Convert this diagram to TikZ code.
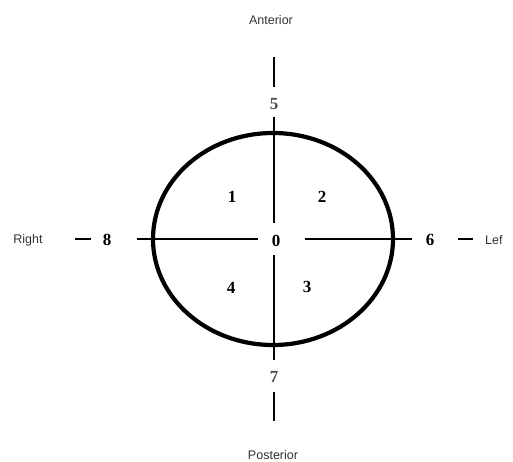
\documentclass[tikz,border=0pt]{standalone}
\usepackage{fontspec}
\setmainfont{Liberation Serif}
\setsansfont{Liberation Sans}
\begin{document}
\begin{tikzpicture}[x=1pt,y=-1pt,
  num/.style={font=\fontsize{17}{17}\selectfont\bfseries, text=black, inner sep=0pt},
  numlight/.style={font=\fontsize{17}{17}\selectfont\bfseries, text=black!70, inner sep=0pt},
  dirlabel/.style={font=\sffamily\fontsize{12.5}{12.5}\selectfont, text=black!80, inner sep=0pt},
  axis/.style={line width=2.4pt, black},
  rim/.style={line width=4.2pt, black}]
\useasboundingbox (0,0) rectangle (513,462);
% outline
\draw[rim] (273,239) ellipse [x radius=120, y radius=106];
% labels
\node[dirlabel] (ant) at (271,20) {Anterior};
\node[dirlabel] (post) at (273,455) {Posterior};
\node[dirlabel] (right) at (28,240) {Right};
\node[dirlabel, anchor=west] (left) at (485,240) {Lef};
\node[numlight] (n5) at (274,104) {5};
\node[numlight] (n7) at (274,377) {7};
\node[num] (n8) at (107,240) {8};
\node[num] (n6) at (430,240) {6};
\node[num] (n0) at (276,241) {0};
\node[num] (n1) at (232,197) {1};
\node[num] (n2) at (322,197) {2};
\node[num] (n4) at (231,288) {4};
\node[num] (n3) at (307,287) {3};
% axis end points
\coordinate (t1) at (274,57);  \coordinate (t2) at (274,87);
\coordinate (t3) at (274,117); \coordinate (t4) at (274,223);
\coordinate (b1) at (274,255); \coordinate (b2) at (274,360);
\coordinate (b3) at (274,392); \coordinate (b4) at (274,421);
\coordinate (l1) at (75,239);  \coordinate (l2) at (91,239);
\coordinate (l3) at (137,239); \coordinate (l4) at (258,239);
\coordinate (r1) at (305,239); \coordinate (r2) at (412,239);
\coordinate (r3) at (458,239); \coordinate (r4) at (473,239);
\draw[axis] (t1) -- (t2);
\draw[axis] (t3) -- (t4);
\draw[axis] (b1) -- (b2);
\draw[axis] (b3) -- (b4);
\draw[axis] (l1) -- (l2);
\draw[axis] (l3) -- (l4);
\draw[axis] (r1) -- (r2);
\draw[axis] (r3) -- (r4);
\end{tikzpicture}
\end{document}
